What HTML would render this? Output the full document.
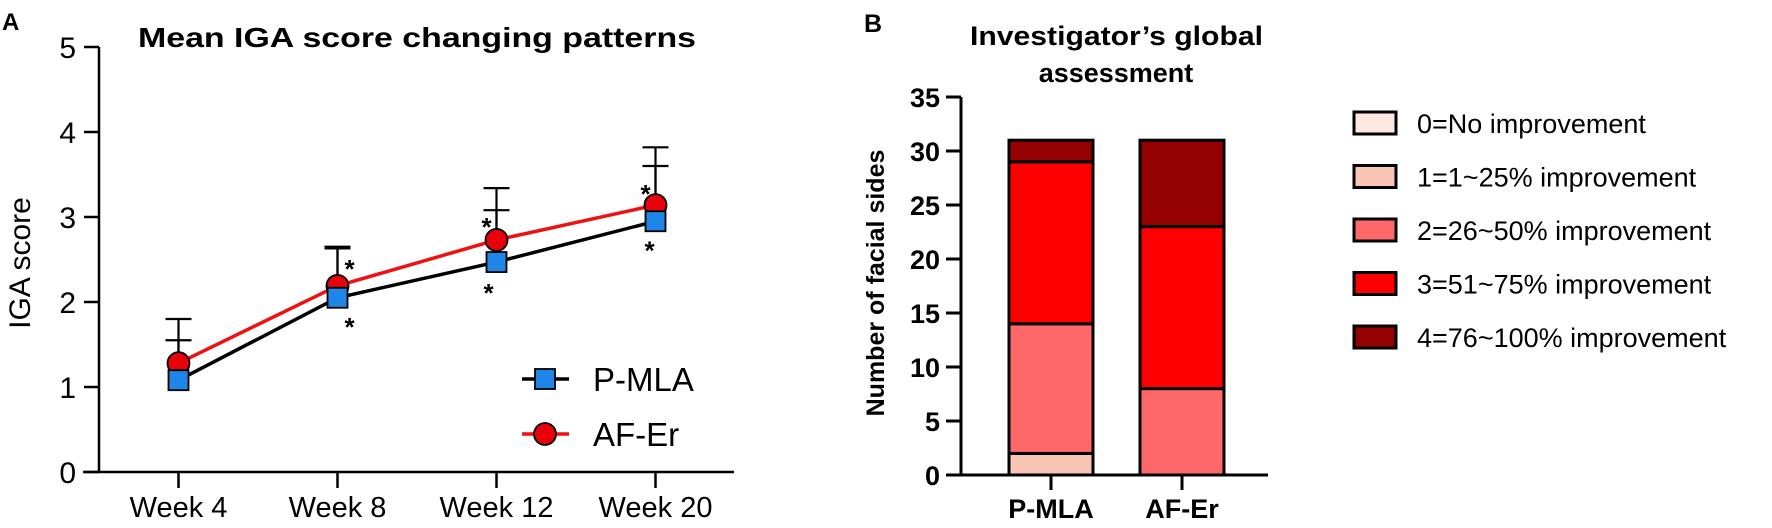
<!DOCTYPE html>
<html><head><meta charset="utf-8">
<style>
html,body{margin:0;padding:0;background:#fff;}
svg{display:block;font-family:"Liberation Sans",Arial,sans-serif;}
</style></head>
<body>
<svg id="fig" width="1772" height="528" viewBox="0 0 1772 528" xmlns="http://www.w3.org/2000/svg">
<g id="panelA"></g>
<g id="panelB"></g>
</svg>
<script>
// ---------- Panel A data ----------
const weeks = ["Week 4","Week 8","Week 12","Week 20"];
const pmlaMean = [1.08, 2.05, 2.47, 2.95];
const pmlaErr = [1.55, 2.63, 3.08, 3.60];
const aferMean = [1.28, 2.19, 2.73, 3.14];
const aferErr = [1.80, 2.65, 3.34, 3.82];
const yTicksA = [0,1,2,3,4,5];
// ---------- Panel B data ----------
const groups = ["P-MLA","AF-Er"];
const cat0 = [0, 0];
const cat1 = [2, 0];
const cat2 = [12, 8];
const cat3 = [15, 15];
const cat4 = [2, 8];
const legendLabels = ["0=No improvement","1=1~25% improvement","2=26~50% improvement","3=51~75% improvement","4=76~100% improvement"];
const yTicksB = [0,5,10,15,20,25,30,35];

const NS = "http://www.w3.org/2000/svg";
function mk(parent, tag, attrs, text){
  const e = document.createElementNS(NS, tag);
  for (const k in attrs) e.setAttribute(k, attrs[k]);
  if (text !== undefined) e.textContent = text;
  parent.appendChild(e);
  return e;
}

// ---------- Panel A ----------
(function(){
  const g = document.getElementById('panelA');
  const x0 = 99, y0 = 472, unit = 85;
  const yA = v => y0 - v*unit;
  const xA = i => 178.5 + i*159;
  let t;
  t = mk(g,'text',{x:2,y:30,'font-size':24,'font-weight':'bold'},'A');
  
  
  t = mk(g,'text',{x:138,y:47,'font-size':28,'font-weight':'bold',textLength:558,lengthAdjust:'spacingAndGlyphs'},'Mean IGA score changing patterns');
  
  
  t = mk(g,'text',{x:0,y:0,'font-size':30,'text-anchor':'middle',transform:'translate(30,263) rotate(-90)'},'IGA score');
  
  
  let l = mk(g,'line',{x1:x0,y1:yA(5),x2:x0,y2:y0,stroke:'#000','stroke-width':2.5});
  
  
  l = mk(g,'line',{x1:83,y1:y0,x2:734,y2:y0,stroke:'#000','stroke-width':2.5});
  
  
  yTicksA.forEach(v=>{
    const tk = mk(g,'line',{x1:84,y1:yA(v),x2:x0,y2:yA(v),stroke:'#000','stroke-width':2.5});
    
    
    const tl = mk(g,'text',{x:76,y:yA(v)+11,'font-size':30,'text-anchor':'end'},String(v));
    
    
  });
  weeks.forEach((w,i)=>{
    const tk = mk(g,'line',{x1:xA(i),y1:y0,x2:xA(i),y2:y0+16,stroke:'#000','stroke-width':2.5});
    
    
    const tl = mk(g,'text',{x:xA(i),y:517,'font-size':29,'text-anchor':'middle'},w);
    
    
  });
  function errs(mean, err, name){
    mean.forEach((m,i)=>{
      const e = mk(g,'path',{d:`M${xA(i)},${yA(m)} V${yA(err[i])} M${xA(i)-13},${yA(err[i])} H${xA(i)+13}`,stroke:'#000','stroke-width':2.2,fill:'none'});
      
      
    });
  }
  errs(aferMean, aferErr, 'af-er-error-bar');
  errs(pmlaMean, pmlaErr, 'p-mla-error-bar');
  let p = mk(g,'polyline',{points:pmlaMean.map((m,i)=>`${xA(i)},${yA(m)}`).join(' '),fill:'none',stroke:'#000','stroke-width':3.5});
  
  
  p = mk(g,'polyline',{points:aferMean.map((m,i)=>`${xA(i)},${yA(m)}`).join(' '),fill:'none',stroke:'#f01010','stroke-width':3.5});
  
  
  aferMean.forEach((m,i)=>{
    const c = mk(g,'circle',{cx:xA(i),cy:yA(m),r:11,fill:'#e8000b',stroke:'#000','stroke-width':1.8});
    
    
  });
  pmlaMean.forEach((m,i)=>{
    const s = mk(g,'rect',{x:xA(i)-10,y:yA(m)-10,width:20,height:20,fill:'#1f86e8',stroke:'#000','stroke-width':1.8});
    
    
  });
  const starOffA = [null,[12,-22],[-10,-18],[-10,-16]];
  const starOffP = [null,[12,24],[-8,26],[-6,24]];
  for (let i=1;i<weeks.length;i++){
    let s = mk(g,'text',{x:xA(i)+starOffA[i][0],y:yA(aferMean[i])+starOffA[i][1]+14,'font-size':26,'text-anchor':'middle','font-weight':'bold'},'*');
    
    
    s = mk(g,'text',{x:xA(i)+starOffP[i][0],y:yA(pmlaMean[i])+starOffP[i][1]+14,'font-size':26,'text-anchor':'middle','font-weight':'bold'},'*');
    
    
  }
  let lg = mk(g,'g',{});
  
  
  mk(lg,'line',{x1:522,y1:379,x2:569,y2:379,stroke:'#000','stroke-width':3.5});
  mk(lg,'rect',{x:535,y:369,width:20,height:20,fill:'#1f86e8',stroke:'#000','stroke-width':1.8});
  mk(lg,'text',{x:593,y:391,'font-size':33},'P-MLA');
  lg = mk(g,'g',{});
  
  
  mk(lg,'line',{x1:522,y1:434,x2:569,y2:434,stroke:'#f01010','stroke-width':3.5});
  mk(lg,'circle',{cx:545,cy:434,r:11,fill:'#e8000b',stroke:'#000','stroke-width':1.8});
  mk(lg,'text',{x:593,y:446,'font-size':33},'AF-Er');
})();

// ---------- Panel B ----------
(function(){
  const g = document.getElementById('panelB');
  const x0 = 961, y0 = 475, unit = 10.8;
  const yB = v => y0 - v*unit;
  const xB = i => 1051 + i*131;
  const bw = 84;
  const colors = ['#fde8e2','#f9c6b6','#ff6868','#ff0000','#950000'];
  const cats = [cat0,cat1,cat2,cat3,cat4];
  let t;
  t = mk(g,'text',{x:864,y:32,'font-size':25,'font-weight':'bold'},'B');
  
  
  t = mk(g,'text',{x:970,y:45,'font-size':27,'font-weight':'bold',textLength:293,lengthAdjust:'spacingAndGlyphs'},'Investigator’s global');
  
  
  t = mk(g,'text',{x:1116,y:82,'font-size':27,'font-weight':'bold','text-anchor':'middle'},'assessment');
  
  
  t = mk(g,'text',{x:0,y:0,'font-size':25,'font-weight':'bold','text-anchor':'middle',transform:'translate(884,283) rotate(-90)'},'Number of facial sides');
  
  
  groups.forEach((gr,i)=>{
    let acc = 0;
    cats.forEach((c,k)=>{
      const v = c[i];
      if (v>0){
        const r = mk(g,'rect',{x:xB(i)-bw/2,y:yB(acc+v),width:bw,height:v*unit,fill:colors[k],stroke:'#000','stroke-width':3});
        
        
      }
      acc += v;
    });
  });
  let l = mk(g,'line',{x1:x0,y1:yB(35),x2:x0,y2:y0,stroke:'#000','stroke-width':3});
  
  
  l = mk(g,'line',{x1:946,y1:y0,x2:1268,y2:y0,stroke:'#000','stroke-width':3});
  
  
  yTicksB.forEach(v=>{
    const tk = mk(g,'line',{x1:946,y1:yB(v),x2:x0,y2:yB(v),stroke:'#000','stroke-width':3});
    
    
    const tl = mk(g,'text',{x:940,y:yB(v)+10,'font-size':27,'font-weight':'bold','text-anchor':'end'},String(v));
    
    
  });
  groups.forEach((gr,i)=>{
    const tk = mk(g,'line',{x1:xB(i),y1:y0,x2:xB(i),y2:y0+15,stroke:'#000','stroke-width':3});
    
    
    const tl = mk(g,'text',{x:xB(i),y:518,'font-size':27,'font-weight':'bold','text-anchor':'middle'},gr);
    
    
  });
  legendLabels.forEach((lab,k)=>{
    const cy = 123 + k*53.5;
    const e = mk(g,'g',{});
    
    
    mk(e,'rect',{x:1354,y:cy-11,width:42,height:22,fill:colors[k],stroke:'#000','stroke-width':3});
    mk(e,'text',{x:1417,y:cy+10,'font-size':27},lab);
  });
})();
</script>
</body></html>
